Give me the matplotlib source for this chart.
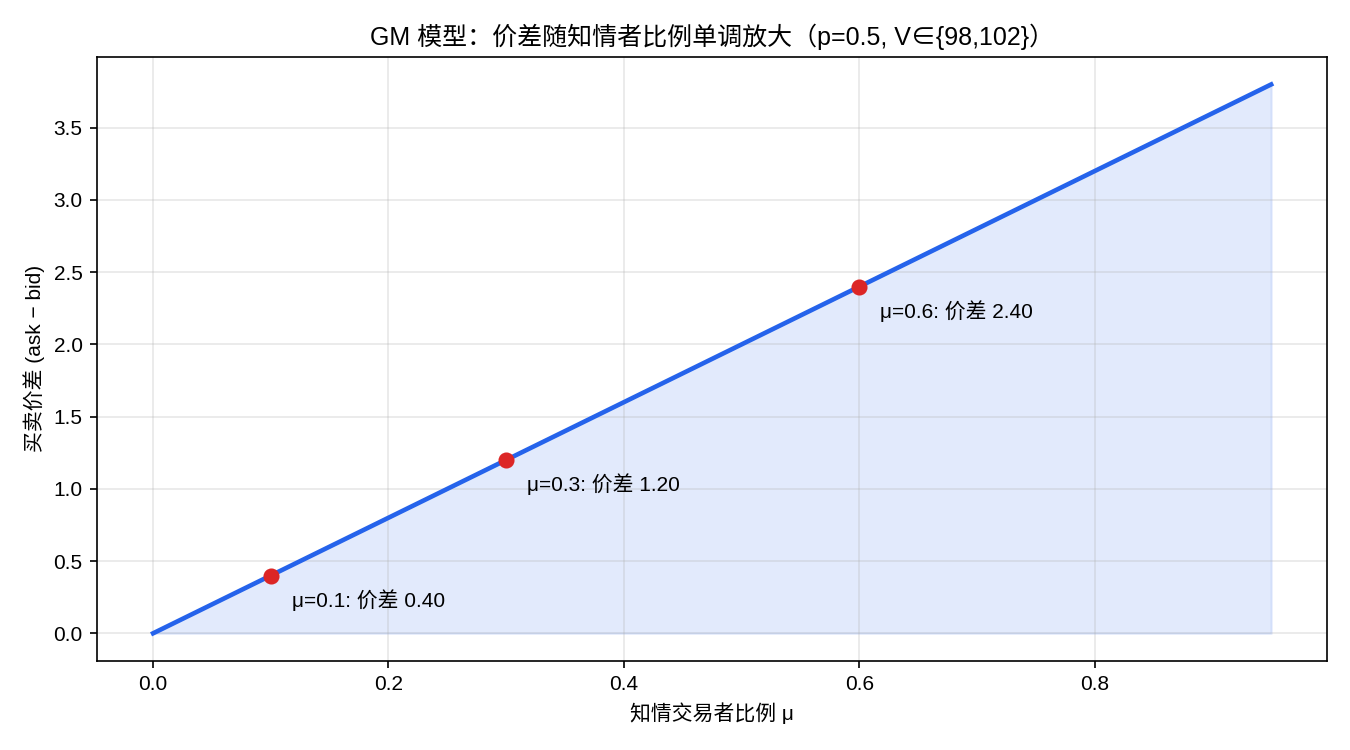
# -*- coding: utf-8 -*-
import numpy as np
import matplotlib.pyplot as plt

plt.rcParams['font.family'] = ['Liberation Sans', 'Noto Sans CJK SC', 'DejaVu Sans']
plt.rcParams['axes.unicode_minus'] = False

# data
mu_line = [0.0, 0.95]
spread_line = [0.0, 3.80]
mu_marks = [0.1, 0.3, 0.6]
spread_marks = [0.40, 1.20, 2.40]

fig, ax = plt.subplots(figsize=(9, 5), dpi=150)
fig.subplots_adjust(left=0.072, right=0.983, top=0.924, bottom=0.119)

ax.plot(mu_line, spread_line, color='#2563eb', lw=2.2)
ax.fill_between(mu_line, spread_line, 0, color='#2563eb', alpha=0.13)
ax.scatter(mu_marks, spread_marks, color='#dc2626', s=45, zorder=5)

for m, s in zip(mu_marks, spread_marks):
    ax.annotate(f"μ={m}: 价差 {s:.2f}", xy=(m, s), xytext=(10, -15),
                textcoords='offset points', fontsize=10)

ax.set_xlabel("知情交易者比例 μ")
ax.set_ylabel("买卖价差 (ask − bid)")
ax.set_title("GM 模型：价差随知情者比例单调放大（p=0.5, V∈{98,102}）")
ax.grid(alpha=0.3)

fig.savefig("out.png", dpi=150)
